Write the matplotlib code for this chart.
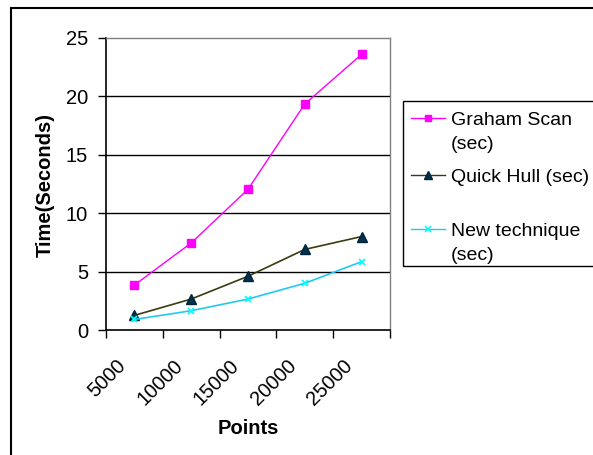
import matplotlib
matplotlib.use("Agg")
from matplotlib import pyplot as plt
from matplotlib.lines import Line2D
from matplotlib.patches import Rectangle
import matplotlib.transforms as mtransforms

# data
points = ["5000", "10000", "15000", "20000", "25000"]
graham = [3.85, 7.45, 12.05, 19.35, 23.6]
quick = [1.25, 2.65, 4.6, 6.9, 8.0]
newtech = [0.9, 1.65, 2.65, 4.0, 5.85]
labels = ["Graham Scan\n(sec)", "Quick Hull (sec)", "New technique\n(sec)"]

W, H = 593, 455
plt.rcParams['font.family'] = ['Liberation Sans', 'DejaVu Sans']

fig = plt.figure(figsize=(W / 100, H / 100), dpi=100)
ax = fig.add_axes([106 / W, 1 - 330 / H, (390 - 106) / W, (330 - 38) / H])

xs = list(range(len(points)))
ax.plot(xs, graham, color='#ff00ff', lw=1, marker='s', ms=6,
        mfc='#ff00ff', mec='#ff00ff', zorder=3)
ax.plot(xs, quick, color='#3b3b10', lw=1.2, marker='^', ms=7,
        mfc='#00334d', mec='#00233a', zorder=3)
ax.plot(xs, newtech, color='#22c8f0', lw=1.2, marker='x', ms=5,
        mec='#00ffff', mew=1.3, zorder=3)

ax.set_xlim(-0.5, len(points) - 0.5)
ax.set_ylim(0, 25)
ax.set_yticks(range(0, 26, 5))
for v in range(5, 25, 5):
    ax.axhline(v, color='black', lw=1, zorder=1)

# category axis: tick marks between categories, labels at centres
ax.set_xticks(xs)
ax.set_xticklabels(points, rotation=45, ha='right', va='top')
ax.set_xticks([x - 0.5 for x in xs] + [len(points) - 0.5], minor=True)
ax.tick_params(axis='x', which='major', length=0, pad=19, labelsize=14.5)
ax.tick_params(axis='x', which='minor', length=6, width=1, direction='out')
ax.tick_params(axis='y', length=6, width=1, direction='out', pad=7, labelsize=14.5)
off = mtransforms.ScaledTranslation(-5 / 100, 0, fig.dpi_scale_trans)
for t in ax.get_xticklabels():
    t.set_transform(t.get_transform() + off)

for s in ['left', 'bottom']:
    ax.spines[s].set_color('black')
    ax.spines[s].set_linewidth(1.2)
for s in ['top', 'right']:
    ax.spines[s].set_color('#808080')
    ax.spines[s].set_linewidth(1)

fig.text(45 / W, 1 - 185 / H, 'Time(Seconds)', rotation=90, ha='center',
         va='center', fontsize=14.5, fontweight='bold')
fig.text(248 / W, 1 - 428 / H, 'Points', ha='center', va='center',
         fontsize=14.5, fontweight='bold')


def fx(px):
    return px / W


def fy(py):
    return 1 - py / H


# legend box, Excel style (runs off the right edge)
fig.add_artist(Rectangle((fx(403), fy(266)), fx(620 - 403), (266 - 101) / H,
                         transform=fig.transFigure, fill=False,
                         edgecolor='black', lw=1))
line_cols = ['#ff00ff', '#3b3b10', '#22c8f0']
markers = [
    dict(marker='s', ms=5, mfc='#ff00ff', mec='#ff00ff'),
    dict(marker='^', ms=6, mfc='#00334d', mec='#00233a'),
    dict(marker='x', ms=4, mec='#00ffff', mew=1.2),
]
rows = [118, 175, 229]
for lab, col, mk, ry in zip(labels, line_cols, markers, rows):
    fig.add_artist(Line2D([fx(411), fx(445)], [fy(ry), fy(ry)],
                          transform=fig.transFigure, lw=1, color=col))
    fig.add_artist(Line2D([fx(428)], [fy(ry)], transform=fig.transFigure,
                          lw=0, **mk))
    fig.text(fx(451), fy(ry - 6), lab, ha='left', va='top', fontsize=14,
             linespacing=1.55, transform=fig.transFigure)

# outer chart border, cropped at right and bottom
fig.add_artist(Rectangle((fx(11), fy(470)), fx(620 - 11), (470 - 8) / H,
                         transform=fig.transFigure, fill=False,
                         edgecolor='black', lw=1.5))

fig.savefig('out.png', dpi=100)
